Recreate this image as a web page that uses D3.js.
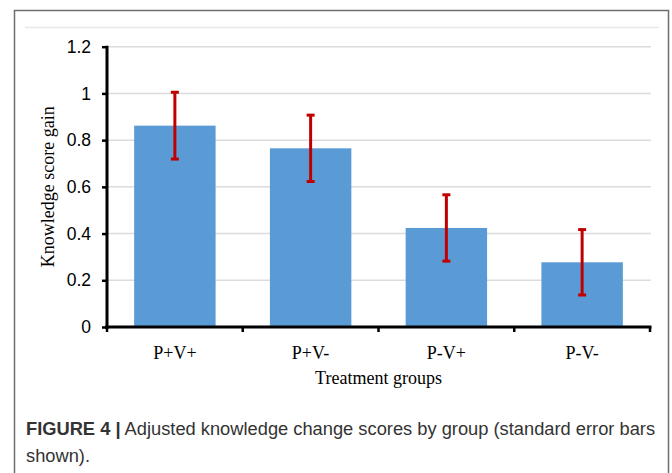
<!DOCTYPE html>
<html>
<head>
<meta charset="utf-8">
<script src="https://cdn.jsdelivr.net/npm/d3@7"></script>
<style>
  body { margin: 0; background: #fff; }
</style>
</head>
<body>
<div id="chart"></div>
<script>
var groups = ['P+V+', 'P+V-', 'P-V+', 'P-V-'];
var gains = [0.862, 0.765, 0.424, 0.277];
var stdErrors = [0.143, 0.142, 0.142, 0.14];
var yTicks = [0, 0.2, 0.4, 0.6, 0.8, 1, 1.2];

var width = 672, height = 473;

var svg = d3.select('#chart')
  .append('svg')
  .attr('width', width)
  .attr('height', height);

// figure frame (no bottom edge)
svg.append('path')
  .attr('d', 'M14.5,' + height + 'V10.5H668.5V' + height)
  .attr('fill', 'none')
  .attr('stroke', '#6e6e6e')
  .attr('stroke-width', 1.5);

// faint chart-area edge
svg.append('line')
  .attr('x1', 25).attr('x2', 659)
  .attr('y1', 27.5).attr('y2', 27.5)
  .attr('stroke', '#e8e8e8')
  .attr('stroke-width', 1.5);

var x0 = 107, x1 = 650;
var y = d3.scaleLinear().domain([0, 1.2]).range([327, 46.7]);
var x = d3.scaleBand().domain(groups).range([x0, x1])
  .paddingInner(0.4).paddingOuter(0.2);

// gridlines
svg.append('g')
  .selectAll('line')
  .data(yTicks.filter(function (d) { return d > 0; }))
  .enter()
  .append('line')
  .attr('x1', x0).attr('x2', x1 + 1)
  .attr('y1', function (d) { return y(d); })
  .attr('y2', function (d) { return y(d); })
  .attr('stroke', '#dcdcdc')
  .attr('stroke-width', 1.5);

// bars
svg.append('g')
  .selectAll('rect')
  .data(gains)
  .enter()
  .append('rect')
  .attr('x', function (d, i) { return x(groups[i]); })
  .attr('width', x.bandwidth())
  .attr('y', function (d) { return y(d); })
  .attr('height', function (d) { return y(0) - y(d); })
  .attr('fill', '#5b9bd5');

// error bars
var err = svg.append('g')
  .selectAll('g')
  .data(gains)
  .enter()
  .append('g')
  .attr('stroke', '#c00000')
  .attr('stroke-width', 3);

err.append('line')
  .attr('x1', function (d, i) { return x(groups[i]) + x.bandwidth() / 2; })
  .attr('x2', function (d, i) { return x(groups[i]) + x.bandwidth() / 2; })
  .attr('y1', function (d, i) { return y(d + stdErrors[i]); })
  .attr('y2', function (d, i) { return y(d - stdErrors[i]); });

[1, -1].forEach(function (s) {
  err.append('line')
    .attr('x1', function (d, i) { return x(groups[i]) + x.bandwidth() / 2 - 4; })
    .attr('x2', function (d, i) { return x(groups[i]) + x.bandwidth() / 2 + 4; })
    .attr('y1', function (d, i) { return y(d + s * stdErrors[i]); })
    .attr('y2', function (d, i) { return y(d + s * stdErrors[i]); });
});

// y axis
var yAxis = d3.axisLeft(y)
  .tickValues(yTicks)
  .tickFormat(function (d) { return d; })
  .tickSize(5)
  .tickPadding(11);

var gy = svg.append('g')
  .attr('transform', 'translate(' + x0 + ',0)')
  .call(yAxis);
gy.select('.domain')
  .attr('d', 'M0,' + (y(1.2) - 1) + 'V' + (y(0) + 2))
  .attr('stroke', '#000')
  .attr('stroke-width', 3);
gy.selectAll('.tick line').attr('stroke-width', 2.5);
gy.selectAll('.tick text')
  .attr('font-family', 'Liberation Sans, Arial, sans-serif')
  .attr('font-size', 17.5)
  .attr('fill', '#000');

// x axis with ticks between categories
var gx = svg.append('g')
  .attr('transform', 'translate(0,' + y(0) + ')');
gx.append('line')
  .attr('x1', x0 - 2).attr('x2', x1 + 1.5)
  .attr('stroke', '#000')
  .attr('stroke-width', 3);
var bounds = groups.map(function (g) { return x(g) - x.step() * x.paddingInner() / 2; });
bounds[0] = x0;
bounds.push(x1);
gx.selectAll('.xtick')
  .data(bounds)
  .enter()
  .append('line')
  .attr('x1', function (d) { return d; })
  .attr('x2', function (d) { return d; })
  .attr('y1', 0).attr('y2', 5)
  .attr('stroke', '#000')
  .attr('stroke-width', 2.5);
gx.selectAll('.xlab')
  .data(groups)
  .enter()
  .append('text')
  .attr('x', function (d) { return x(d) + x.bandwidth() / 2; })
  .attr('y', 32)
  .attr('text-anchor', 'middle')
  .attr('font-family', 'Liberation Serif, Times New Roman, serif')
  .attr('font-size', 18)
  .text(function (d) { return d; });

// axis titles
svg.append('text')
  .attr('x', (x0 + x1) / 2)
  .attr('y', 384)
  .attr('text-anchor', 'middle')
  .attr('font-family', 'Liberation Serif, Times New Roman, serif')
  .attr('font-size', 18)
  .text('Treatment groups');

svg.append('text')
  .attr('transform', 'translate(54,' + ((y(0) + y(1.2)) / 2) + ') rotate(-90)')
  .attr('text-anchor', 'middle')
  .attr('font-family', 'Liberation Serif, Times New Roman, serif')
  .attr('font-size', 18)
  .text('Knowledge score gain');

// caption
var cap = svg.append('text')
  .attr('font-family', 'Liberation Sans, Arial, sans-serif')
  .attr('font-size', 18.3)
  .attr('fill', '#333');
var l1 = cap.append('tspan').attr('x', 26).attr('y', 435);
l1.append('tspan').attr('font-weight', 'bold').text('FIGURE 4 |');
l1.append('tspan').text(' Adjusted knowledge change scores by group (standard error bars');
cap.append('tspan').attr('x', 26).attr('y', 462).text('shown).');
</script>
</body>
</html>
